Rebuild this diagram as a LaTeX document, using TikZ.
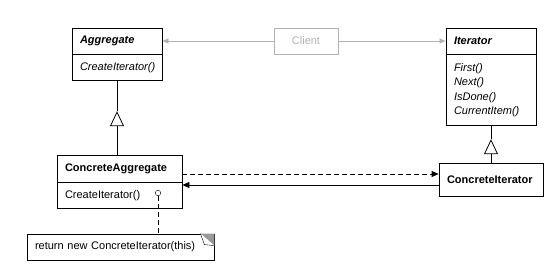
\documentclass[tikz,border=0pt]{standalone}
\usepackage{fontspec}
\setmainfont{Liberation Sans}
\usetikzlibrary{positioning,calc,arrows.meta}
\newcommand\umlfont{\fontsize{11}{14.5}\selectfont}
\definecolor{clientgray}{gray}{0.7}

\tikzset{
  classhead/.style={draw, thick, font=\umlfont\bfseries, text width=#1,
    inner xsep=8pt, inner ysep=0pt, minimum height=26pt, align=left},
  classbody/.style={draw, thick, font=\umlfont, text width=#1,
    inner xsep=8pt, inner ysep=0pt, minimum height=26pt, align=left},
  abstract/.style={font=\umlfont\bfseries\itshape},
  abstractops/.style={font=\umlfont\itshape},
  inherit/.style={thick, -{Triangle[open, length=15pt, width=14pt]}},
  nav/.style={thick, -{Triangle[length=7pt, width=6pt]}},
  depend/.style={thick, dashed, dash pattern=on 5pt off 3pt, -{Triangle[length=7pt, width=6pt]}},
  clientline/.style={clientgray, thick, -{Triangle[length=6pt, width=5pt]}}
}

\begin{document}
\begin{tikzpicture}[x=1pt,y=-1pt]
  \useasboundingbox (0,0) rectangle (560,276);

  % abstract classes
  \node[classhead=74pt, abstract] (agg) at (117,41) {Aggregate};
  \node[classbody=74pt, abstractops, below=0pt of agg] (aggops) {CreateIterator()};

  \node[classhead=74pt, abstract] (iter) at (491,41) {Iterator};
  \node[classbody=74pt, abstractops, below=0pt of iter, minimum height=71pt] (iterops)
    {First()\\Next()\\IsDone()\\CurrentItem()};

  \node[draw=clientgray, thick, text=clientgray, font=\umlfont, minimum width=64pt,
    minimum height=26pt, inner sep=0pt] (client) at (306,41) {Client};

  % concrete classes
  \node[classhead=109pt, minimum height=27pt] (cagg) at (119.5,168.5) {ConcreteAggregate};
  \node[classbody=109pt, below=0pt of cagg] (caggops) {CreateIterator()};

  \node[classhead=88pt, minimum height=33pt] (citer) at (491,179.5) {ConcreteIterator};

  \node[draw, thick, font=\umlfont, text width=171pt, inner xsep=8pt, inner ysep=0pt,
    minimum height=26pt, align=left] (note) at (120.5,247) {return new ConcreteIterator(this)};
  \fill[gray!80] ($(note.north east)+(-14,0)$) -- (note.north east) -- ($(note.north east)+(0,12)$) -- cycle;
  \draw[fill=white] ($(note.north east)+(-14,0)$) -- ($(note.north east)+(-10,11)$) -- ($(note.north east)+(0,12)$);

  \draw[clientline] (client.west) -- (agg.east);
  \draw[clientline] (client.east) -- (iter.west);

  \coordinate (aggtip) at ($(aggops.south)+(0,30)$);
  \draw[inherit] (aggops.south |- cagg.north) -- (aggtip);
  \draw[thick] (aggtip) -- (aggops.south);

  \coordinate (itertip) at ($(iterops.south)+(0,13)$);
  \draw[inherit] (citer.north) -- (itertip);
  \draw[thick] (itertip) -- (iterops.south);

  \draw[depend] ($(citer.west -| cagg.east)+(0,-5.5)$) -- ($(citer.west)+(0,-5.5)$);
  \draw[nav] ($(citer.west)+(0,5.5)$) -- ($(citer.west -| cagg.east)+(0,5.5)$);

  \node[circle, draw, fill=white, inner sep=0pt, minimum size=5.5pt] (knob) at (158,193) {};
  \draw[thick, dashed, dash pattern=on 5pt off 3pt] (knob.south) -- (knob.south |- note.north);
\end{tikzpicture}
\end{document}
